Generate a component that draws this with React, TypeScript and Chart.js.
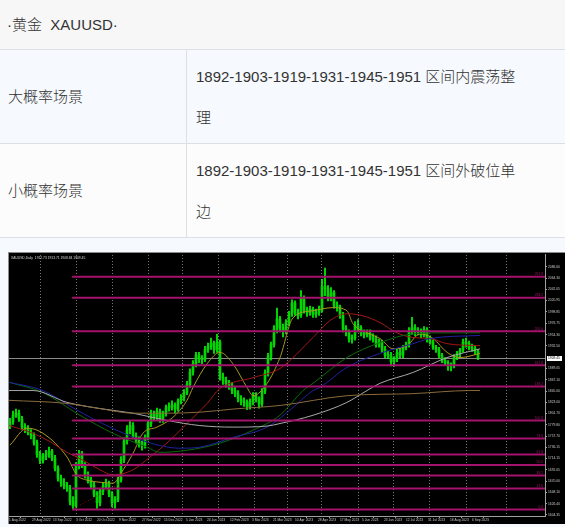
import React, { useEffect, useRef } from "react";
import { Chart, registerables } from "chart.js";
Chart.register(...registerables);

// ---- data (one candle ≈ two trading days) ----
const opens = [
  1778,1785,1798,1802,1790,1775,1772,1765,1758,1745,
  1722,1710,1718,1722,1728,1715,1695,1675,1668,1662,
  1656,1630,1622,1700,1724,1700,1680,1672,1662,1645,
  1628,1650,1660,1665,1645,1628,1635,1672,1712,1748,
  1770,1778,1758,1750,1742,1740,1755,1782,1800,1795,
  1805,1790,1802,1812,1815,1818,1810,1826,1832,1842,
  1858,1882,1898,1915,1908,1906,1926,1932,1938,1925,
  1940,1872,1866,1860,1856,1846,1840,1830,1826,1822,
  1815,1825,1836,1830,1820,1845,1880,1912,1935,1965,
  1985,1968,1962,1978,1995,2016,1998,1992,2025,2002,
  1998,2004,1994,1998,2002,2048,2044,2026,2036,2012,
  2008,1992,1966,1960,1946,1948,1972,1968,1958,1955,
  1958,1950,1946,1936,1940,1926,1914,1915,1902,1908,
  1920,1915,1930,1935,1962,1968,1960,1962,1955,1964,
  1946,1940,1930,1925,1914,1905,1900,1893,1896,1912,
  1918,1924,1940,1938,1930,1928,1922,
];
const closes = [
  1785,1798,1802,1790,1775,1772,1765,1758,1745,1722,
  1710,1718,1722,1728,1715,1695,1675,1668,1662,1656,
  1630,1622,1700,1724,1700,1680,1672,1662,1645,1628,
  1650,1660,1665,1645,1628,1635,1672,1712,1748,1770,
  1778,1758,1750,1742,1740,1755,1782,1800,1795,1805,
  1790,1802,1812,1815,1818,1810,1826,1832,1842,1858,
  1882,1898,1915,1908,1906,1926,1932,1938,1925,1940,
  1872,1866,1860,1856,1846,1840,1830,1826,1822,1815,
  1825,1836,1830,1820,1845,1880,1912,1935,1965,1985,
  1968,1962,1978,1995,2016,1998,1992,2025,2002,1998,
  2004,1994,1998,2002,2048,2044,2026,2036,2012,2008,
  1992,1966,1960,1946,1948,1972,1968,1958,1955,1958,
  1950,1946,1936,1940,1926,1914,1915,1902,1908,1920,
  1915,1930,1935,1962,1968,1960,1962,1955,1964,1946,
  1940,1930,1925,1914,1905,1900,1893,1896,1912,1918,
  1924,1940,1938,1930,1928,1922,1910,
];
const highs = [
  1792,1806,1810,1808,1796,1782,1778,1770,1764,1750,
  1728,1724,1730,1736,1732,1720,1700,1682,1675,1668,
  1662,1640,1706,1730,1728,1706,1688,1678,1668,1650,
  1656,1668,1674,1670,1650,1640,1678,1718,1754,1778,
  1786,1784,1764,1756,1748,1760,1788,1808,1806,1812,
  1810,1806,1818,1822,1826,1822,1830,1838,1848,1864,
  1888,1904,1920,1920,1914,1932,1938,1948,1942,1955,
  1944,1880,1872,1866,1862,1852,1846,1836,1832,1828,
  1830,1842,1842,1834,1850,1886,1918,1940,1972,2006,
  1990,1975,1984,2000,2022,2020,2004,2040,2030,2008,
  2010,2008,2004,2010,2062,2084,2050,2046,2040,2018,
  2012,1998,1972,1964,1954,1980,1984,1972,1964,1964,
  1964,1956,1952,1946,1944,1932,1922,1920,1912,1926,
  1928,1934,1940,1968,1988,1974,1968,1966,1970,1968,
  1952,1944,1934,1930,1918,1910,1904,1900,1916,1922,
  1928,1946,1948,1942,1936,1932,1926,
];
const lows = [
  1772,1780,1794,1786,1770,1764,1760,1752,1740,1716,
  1704,1705,1712,1716,1710,1690,1670,1660,1655,1650,
  1624,1615,1618,1694,1696,1676,1666,1655,1640,1617,
  1622,1644,1655,1640,1620,1617,1630,1668,1706,1742,
  1762,1752,1744,1736,1730,1734,1750,1776,1788,1790,
  1784,1784,1796,1806,1808,1802,1806,1820,1826,1838,
  1852,1876,1892,1900,1898,1902,1920,1926,1918,1920,
  1866,1858,1852,1848,1840,1834,1824,1818,1815,1809,
  1810,1818,1824,1812,1815,1840,1874,1905,1930,1958,
  1960,1950,1956,1972,1990,1992,1985,1988,1996,1990,
  1992,1988,1988,1992,1998,2030,2020,2020,2006,2000,
  1986,1960,1952,1940,1938,1944,1960,1952,1948,1950,
  1944,1940,1930,1930,1920,1910,1908,1894,1893,1902,
  1910,1910,1925,1930,1955,1952,1954,1948,1950,1940,
  1936,1926,1920,1910,1900,1896,1885,1884,1890,1906,
  1912,1920,1930,1925,1922,1916,1906,
];

// moving averages, [bar, price] read at sparse points
const maYellow = [[0,1740],[5.7,1773],[11,1763],[19,1717],[22.3,1682],[25.7,1672],[30,1668],[34.3,1666],[37.7,1692],[41,1724],[44.3,1763],[49,1775],[54.3,1794],[59,1827],[61,1852],[65.7,1898],[70,1920],[74.3,1898],[79,1852],[81,1836],[85.7,1860],[90,1910],[94.3,1987],[101,2001],[107.7,2007],[112.3,2001],[114.3,1976],[119,1958],[123.3,1947],[127.7,1927],[132.3,1933],[136.7,1956],[141,1947],[145.7,1920],[150,1910],[156.7,1918]];
const maRed = [[-0.3,1778],[7.7,1763],[13.3,1747],[19,1726],[24.3,1711],[30,1692],[34.3,1682],[41,1692],[46.7,1717],[52.3,1744],[59,1782],[65.7,1821],[70,1850],[81,1871],[90,1889],[101,1949],[106.7,1982],[112.3,1995],[117.7,1991],[123.3,1978],[129,1958],[134.3,1949],[140,1947],[145.7,1937],[156.7,1933]];
const maGreen = [[-0.3,1862],[11,1842],[23.3,1798],[34.3,1763],[45.7,1736],[50,1726],[59,1730],[70,1744],[81,1769],[90,1798],[97.7,1846],[101,1860],[112.3,1910],[123.3,1939],[134.3,1956],[145.7,1958],[156.7,1958]];
const maBlue = [[-0.3,1862],[11,1846],[22.3,1808],[33.3,1775],[45.7,1746],[56.7,1734],[63.3,1736],[74.3,1755],[85.7,1775],[93.3,1808],[101,1846],[103.3,1852],[112.3,1891],[123.3,1918],[134.3,1937],[140,1947],[156.7,1953]];
const maGray = [[-0.3,1846],[7.7,1846],[19,1823],[30,1811],[41,1802],[52.3,1788],[63.3,1778],[74.3,1775],[85.7,1777],[90,1782],[101,1798],[112.3,1823],[119,1846],[123.3,1860],[134.3,1881],[145.7,1910],[156.7,1927]];
const maBrown = [[-0.3,1827],[19,1821],[30,1811],[41,1802],[52.3,1802],[63.3,1804],[74.3,1810],[90,1817],[112.3,1836],[134.3,1840],[153.3,1846],[156.7,1846]];

// Fibonacci levels and the tool's dotted anchor line
const fibNames = ["261.8","238.2","200.0","161.8","138.2","100.0","78.6","61.8","50.0","38.2","23.6","0.0"];
const fibPrices = [2067, 2026, 1961, 1895, 1854, 1788, 1753, 1722, 1701.5, 1681, 1656, 1615];
const fibStartBar = 20.7;
const fibAnchorLine = [[20.7, 1615], [36.7, 1666]];

const yTickValues = [2086.6,2064.3,2042.05,2020.95,1998.85,1976.75,1954.3,1932.5,1889.05,1867.1,1845.0,1823.0,1801.7,1779.8,1757.7,1736.15,1714.15,1692.05,1670.0,1648.1,1626.4,1604.35];
const xTickBars = [-0.3,7.33,14.33,22,29,36.33,44,51.33,58.67,65.67,73.33,80.67,87.67,95,102.67,110,117.33,124.67,132,139.33,146.67,154];
const xTickLabels = ["1 Aug 2022","29 Aug 2022","13 Sep 2022","3 Oct 2022","20 Oct 2022","9 Nov 2022","27 Nov 2022","15 Dec 2022","5 Jan 2023","24 Jan 2023","12 Feb 2023","3 Mar 2023","21 Mar 2023","10 Apr 2023","28 Apr 2023","17 May 2023","5 Jun 2023","23 Jun 2023","12 Jul 2023","31 Jul 2023","18 Aug 2023","6 Sep 2023"];
const gridBars = [10,22,34,46,57.33,69.33,81.33,92.33,103.67,116,127.67,139.67,152,165.33];
const lastPrice = 1909.45;
const headerText = "XAUUSD,Daily  1912.73 1913.71 1908.84 1909.45";

const TINY = { size: 3.3, family: "Liberation Sans" };
const TINY_CSS = "3.3px 'Liberation Sans'";
const FIB_COLOR = "#a3136c";

const mt4Plugin = {
  id: "mt4",
  beforeDraw(chart: any) {
    const { ctx, width, height } = chart;
    ctx.save();
    ctx.fillStyle = "#000";
    ctx.fillRect(0, 0, width, height);
    ctx.fillStyle = "#8c8c8c";
    ctx.fillRect(0, 0, width, 1);
    ctx.fillRect(0, 0, 1, height);
    ctx.restore();
  },
  beforeDatasetsDraw(chart: any) {
    const { ctx, chartArea, scales } = chart;
    const x = scales.x, y = scales.y;
    ctx.save();
    ctx.strokeStyle = "#7a7a7a";
    ctx.lineWidth = 1;
    ctx.setLineDash([1, 2]);
    for (const g of gridBars) {
      const px = Math.round(x.getPixelForValue(g)) + 0.5;
      ctx.beginPath();
      ctx.moveTo(px, chartArea.top);
      ctx.lineTo(px, chartArea.bottom);
      ctx.stroke();
    }
    ctx.setLineDash([]);
    const py = Math.round(y.getPixelForValue(lastPrice)) + 0.5;
    ctx.strokeStyle = "#8a8a8a";
    ctx.beginPath();
    ctx.moveTo(chartArea.left, py);
    ctx.lineTo(chartArea.right, py);
    ctx.stroke();
    ctx.restore();
  },
  afterDatasetsDraw(chart: any) {
    const { ctx, chartArea, scales } = chart;
    const y = scales.y;
    ctx.save();
    ctx.font = TINY_CSS;
    ctx.textAlign = "right";
    ctx.textBaseline = "bottom";
    ctx.fillStyle = FIB_COLOR;
    fibPrices.forEach((p, i) => {
      const py = y.getPixelForValue(p);
      ctx.fillText(fibNames[i], chartArea.right - 2, py - 1);
    });
    // price box
    const py = Math.round(y.getPixelForValue(lastPrice));
    ctx.fillStyle = "#fff";
    ctx.fillRect(chartArea.right + 2, py - 2, 15, 5);
    ctx.fillStyle = "#000";
    ctx.textAlign = "left";
    ctx.textBaseline = "middle";
    ctx.fillText(lastPrice.toFixed(2), chartArea.right + 3, py + 0.5);
    // header
    ctx.fillStyle = "#d8d8d8";
    ctx.textBaseline = "top";
    ctx.fillText(headerText, chartArea.left + 2, chartArea.top + 1);
    ctx.restore();
  },
};

function App() {
  const ref = useRef<HTMLCanvasElement | null>(null);
  useEffect(() => {
    document.body.style.margin = "0";
    const canvas = ref.current!;
    const line = (pts: number[][], color: string) => ({
      type: "line" as const,
      data: pts.map(([x, y]) => ({ x, y })),
      borderColor: color,
      borderWidth: 1,
      pointRadius: 0,
      cubicInterpolationMode: "monotone" as const,
      order: 1,
    });
    const fibSets = fibPrices.map((p) => ({
      type: "line" as const,
      data: [{ x: fibStartBar, y: p }, { x: 178.33, y: p }],
      borderColor: FIB_COLOR,
      borderWidth: 2,
      pointRadius: 0,
      order: 0,
    }));
    const chart = new Chart(canvas, {
      type: "bar",
      data: {
        datasets: [
          {
            type: "bar",
            data: lows.map((l, i) => ({ x: i, y: [l, highs[i]] })) as any,
            backgroundColor: "#00ff00",
            barThickness: 1,
            grouped: false,
            order: 3,
          } as any,
          {
            type: "bar",
            data: opens.map((o, i) => ({ x: i, y: [o, closes[i]] })) as any,
            backgroundColor: "#00d800",
            barThickness: 2,
            minBarLength: 1,
            grouped: false,
            order: 2,
          } as any,
          line(maBrown, "#8a6a3c"),
          line(maGray, "#a8a8a8"),
          line(maBlue, "#2020a0"),
          line(maGreen, "#0a6a0a"),
          line(maRed, "#a01818"),
          line(maYellow, "#a89a20"),
          {
            type: "line",
            data: fibAnchorLine.map(([x, y]) => ({ x, y })),
            borderColor: "#8a1010",
            borderWidth: 1,
            borderDash: [1, 2],
            pointRadius: 0,
            order: 1,
          },
          ...fibSets,
        ] as any,
      },
      options: {
        animation: false,
        responsive: false,
        layout: { padding: { left: 1, top: 2, right: 0, bottom: 0 } },
        plugins: { legend: { display: false }, tooltip: { enabled: false } },
        scales: {
          x: {
            type: "linear",
            min: -0.33,
            max: 178.33,
            offset: false,
            afterFit: (s: any) => { s.height = 8; },
            afterBuildTicks: (s: any) => { s.ticks = xTickBars.map((v) => ({ value: v })); },
            border: { display: true, color: "#a0a0a0" },
            grid: { drawOnChartArea: false, drawTicks: true, tickLength: 2, color: "#a0a0a0" },
            ticks: {
              autoSkip: false,
              maxRotation: 0,
              align: "start",
              padding: 0,
              color: "#c8c8c8",
              font: TINY,
              callback: (_v: any, i: number) => xTickLabels[i],
            },
          },
          y: {
            type: "linear",
            position: "right",
            min: 1602.4,
            max: 2109.2,
            afterFit: (s: any) => { s.width = 20; },
            afterBuildTicks: (s: any) => { s.ticks = yTickValues.map((v) => ({ value: v })); },
            border: { display: true, color: "#a0a0a0" },
            grid: { drawOnChartArea: false, drawTicks: true, tickLength: 2, color: "#a0a0a0" },
            ticks: {
              autoSkip: false,
              padding: 1,
              color: "#c8c8c8",
              font: TINY,
              callback: (v: any) => Number(v).toFixed(2),
            },
          },
        },
      } as any,
      plugins: [mt4Plugin],
    });
    return () => chart.destroy();
  }, []);

  const font = '"Liberation Sans", "Noto Sans CJK SC", sans-serif';
  const border = "1px solid #dcdfe3";
  const cellText: React.CSSProperties = { position: "absolute", fontSize: 15, fontWeight: 300, color: "#333", whiteSpace: "nowrap" };
  return (
    <div style={{ position: "relative", width: 565, height: 527, background: "#f6f9fd", fontFamily: font, overflow: "hidden" }}>
      <div style={{ position: "absolute", left: 0, top: 0, width: 565, height: 49, background: "#f7f7f7", borderBottom: border }}>
        <div style={{ ...cellText, left: 7, top: 0, lineHeight: "49px" }}>·黄金&nbsp;&nbsp;XAUUSD·</div>
      </div>
      <div style={{ position: "absolute", left: 0, top: 50, width: 565, height: 93, background: "#f6f9fd", borderBottom: border }}>
        <div style={{ position: "absolute", left: 186, top: 0, width: 1, height: 93, background: "#dcdfe3" }} />
        <div style={{ ...cellText, left: 8, top: 0, lineHeight: "93px" }}>大概率场景</div>
        <div style={{ ...cellText, left: 196, top: 6, lineHeight: "41px" }}>1892-1903-1919-1931-1945-1951 区间内震荡整<br />理</div>
      </div>
      <div style={{ position: "absolute", left: 0, top: 144, width: 565, height: 93, background: "#fcfcfc", borderBottom: border }}>
        <div style={{ position: "absolute", left: 186, top: 0, width: 1, height: 93, background: "#dcdfe3" }} />
        <div style={{ ...cellText, left: 8, top: 0, lineHeight: "93px" }}>小概率场景</div>
        <div style={{ ...cellText, left: 196, top: 6, lineHeight: "41px" }}>1892-1903-1919-1931-1945-1951 区间外破位单<br />边</div>
      </div>
      <div style={{ position: "absolute", left: 8, top: 252, width: 557, height: 272 }}>
        <canvas ref={ref} width={557} height={272} style={{ width: 557, height: 272, display: "block" }} />
      </div>
    </div>
  );
}

export default App;
